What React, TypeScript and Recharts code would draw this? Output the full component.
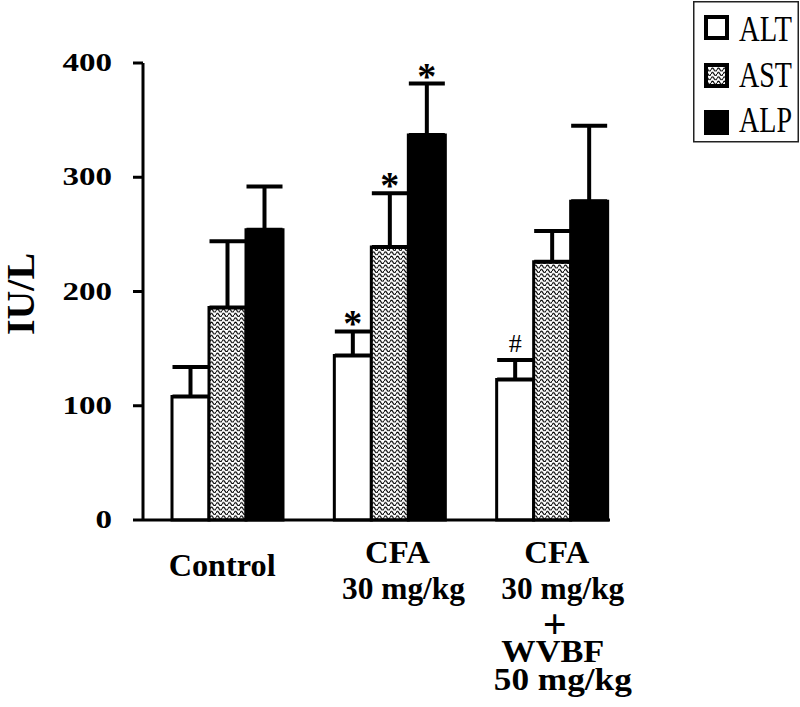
import React from 'react';
import { BarChart, Bar, XAxis, YAxis, ErrorBar, LabelList, Legend } from 'recharts';

// ---------------- data ----------------
const categories = ['Control', 'CFA 30 mg/kg', 'CFA 30 mg/kg + WVBF 50 mg/kg'];
const categoryLines = [
  ['Control'],
  ['CFA', '30 mg/kg'],
  ['CFA', '30 mg/kg', '+', 'WVBF', '50 mg/kg'],
];
const seriesNames = ['ALT', 'AST', 'ALP'];
const altValues = [108, 144, 123];
const altErrors = [26, 21, 17];
const astValues = [186, 239, 226];
const astErrors = [58, 47, 27];
const alpValues = [254, 337, 279];
const alpErrors = [38, 45, 66];
const altMarks = ['', '*', '#'];
const astMarks = ['', '*', ''];
const alpMarks = ['', '*', ''];
const yTicks = [0, 100, 200, 300, 400];
const yLabel = 'IU/L';

const data = categories.map((c, i) => ({
  category: c,
  ALT: altValues[i],
  AST: astValues[i],
  ALP: alpValues[i],
  altErr: [0, altErrors[i]],
  astErr: [0, astErrors[i]],
  alpErr: [0, alpErrors[i]],
}));

// ---------------- styling helpers ----------------
const SERIF = '"Liberation Serif", "Times New Roman", serif';

// per-line layout of category labels (offsets relative to tick)
const lineLayout: Record<string, { dx: number[]; dy: number[] }> = {
  Control: { dx: [-5], dy: [56] },
  'CFA 30 mg/kg': { dx: [8, 14], dy: [43, 79] },
  'CFA 30 mg/kg + WVBF 50 mg/kg': { dx: [5, 11, 3, 1, 11], dy: [43, 79, 118, 142, 170] },
};
const lineWidth: Record<string, number> = {
  Control: 107,
  CFA: 65,
  '30 mg/kg': 123,
  WVBF: 103,
  '50 mg/kg': 138,
};

const XTick = (props: any) => {
  const { x, y, payload, index } = props;
  const idx = typeof index === 'number' ? index : categories.indexOf(payload.value);
  const lines = categoryLines[idx] || [];
  const layout = lineLayout[categories[idx]];
  return (
    <g>
      {lines.map((ln, j) => (
        <text
          key={j}
          x={x + layout.dx[j]}
          y={y + layout.dy[j]}
          textAnchor="middle"
          fontFamily={SERIF}
          fontWeight="bold"
          fontSize={ln === '+' ? 42 : 31}
          fill="#000"
          textLength={lineWidth[ln]}
          lengthAdjust={lineWidth[ln] ? 'spacingAndGlyphs' : undefined}
        >
          {ln}
        </text>
      ))}
    </g>
  );
};

const YTick = (props: any) => {
  const { x, y, payload } = props;
  const s = String(payload.value);
  return (
    <text
      x={x}
      y={y + 8}
      textAnchor="end"
      fontFamily={SERIF}
      fontWeight="bold"
      fontSize={25}
      fill="#000"
      textLength={s.length * 16.5}
      lengthAdjust="spacingAndGlyphs"
    >
      {s}
    </text>
  );
};

const YLabel = () => (
  <text
    x={34}
    y={294}
    transform="rotate(-90 34 294)"
    textAnchor="middle"
    fontFamily={SERIF}
    fontWeight="bold"
    fontSize={39}
    fill="#000"
    textLength={82}
    lengthAdjust="spacingAndGlyphs"
  >
    {yLabel}
  </text>
);

const markContent = (values: number[], errors: number[], marks: string[]) => (props: any) => {
  const vb = props.viewBox || {};
  const x = props.x ?? vb.x;
  const y = props.y ?? vb.y;
  const width = props.width ?? vb.width;
  const height = props.height ?? vb.height;
  const index = props.index;
  const mark = marks[index];
  if (!mark) return null;
  const pxPerUnit = Math.abs(height) / values[index];
  const top = Math.min(y, y + height);
  const capY = top - errors[index] * pxPerUnit;
  const cx = x + width / 2;
  if (mark === '#') {
    return (
      <text x={cx} y={capY - 8} textAnchor="middle" fontFamily={SERIF} fontSize={26} fill="#000">
        #
      </text>
    );
  }
  return (
    <text x={cx} y={capY + 5} textAnchor="middle" fontFamily={SERIF} fontWeight="bold" fontSize={38} fill="#000">
      *
    </text>
  );
};

const legendFills = ['#fff', 'url(#zigzag)', '#000'];

const renderLegend = () => (
  <svg width={106} height={142}>
    <rect x={0.75} y={0.75} width={104.5} height={140} fill="#fff" stroke="#222" strokeWidth={1.5} />
    {seriesNames.map((n, i) => {
      const sq = [14, 62, 109][i];
      const base = [40, 86, 131][i];
      return (
        <g key={n}>
          <rect x={13} y={sq + 2} width={21} height={21} fill={legendFills[i]} stroke="#000" strokeWidth={4} />
          <text
            transform={`translate(46 ${base}) scale(1 1.32)`}
            x={0}
            y={0}
            fontFamily={SERIF}
            fontSize={27}
            fill="#000"
            textLength={53}
            lengthAdjust="spacingAndGlyphs"
          >
            {n}
          </text>
        </g>
      );
    })}
  </svg>
);

export default function App() {
  return (
    <div style={{ position: 'absolute', left: 0, top: 0, width: 800, height: 707, background: '#fff' }}>
      <svg width={0} height={0} style={{ position: 'absolute' }}>
        <defs>
          <pattern id="zigzag" patternUnits="userSpaceOnUse" width={6} height={4.4}>
            <rect x={0} y={0} width={6} height={4.4} fill="#fff" />
            <path d="M0 2.6 C1 0.6 2 0.6 3 2.6 S5 4.6 6 2.6" fill="none" stroke="#000" strokeWidth={1.2} />
          </pattern>
        </defs>
      </svg>
      <BarChart
        width={800}
        height={707}
        data={data}
        margin={{ top: 63, right: 190, bottom: 37, left: 63 }}
        barGap={0}
        barSize={37}
      >
        <XAxis
          dataKey="category"
          height={150}
          interval={0}
          tickLine={false}
          tickSize={0}
          tickMargin={0}
          axisLine={{ stroke: '#000', strokeWidth: 3 }}
          padding={{ left: 3, right: -23 }}
          tick={<XTick />}
        />
        <YAxis
          width={80}
          domain={[0, 400]}
          ticks={yTicks}
          interval={0}
          tickSize={10}
          tickMargin={21}
          axisLine={{ stroke: '#000', strokeWidth: 3 }}
          tickLine={{ stroke: '#000', strokeWidth: 3 }}
          tick={<YTick />}
          label={{ content: <YLabel /> }}
        />
        <Legend
          layout="vertical"
          align="center"
          verticalAlign="middle"
          content={renderLegend}
          wrapperStyle={{ position: 'absolute', left: 693, top: 1, width: 106, height: 142 }}
        />
        <Bar dataKey="ALT" fill="#fff" stroke="#000" strokeWidth={3} isAnimationActive={false}>
          <ErrorBar dataKey="altErr" width={18} strokeWidth={4} stroke="#000" direction="y" />
          <LabelList dataKey="ALT" content={markContent(altValues, altErrors, altMarks)} />
        </Bar>
        <Bar dataKey="AST" fill="url(#zigzag)" stroke="#000" strokeWidth={3} isAnimationActive={false}>
          <ErrorBar dataKey="astErr" width={18} strokeWidth={4} stroke="#000" direction="y" />
          <LabelList dataKey="AST" content={markContent(astValues, astErrors, astMarks)} />
        </Bar>
        <Bar dataKey="ALP" fill="#000" stroke="#000" strokeWidth={3} isAnimationActive={false}>
          <ErrorBar dataKey="alpErr" width={18} strokeWidth={4} stroke="#000" direction="y" />
          <LabelList dataKey="ALP" content={markContent(alpValues, alpErrors, alpMarks)} />
        </Bar>
      </BarChart>
    </div>
  );
}
